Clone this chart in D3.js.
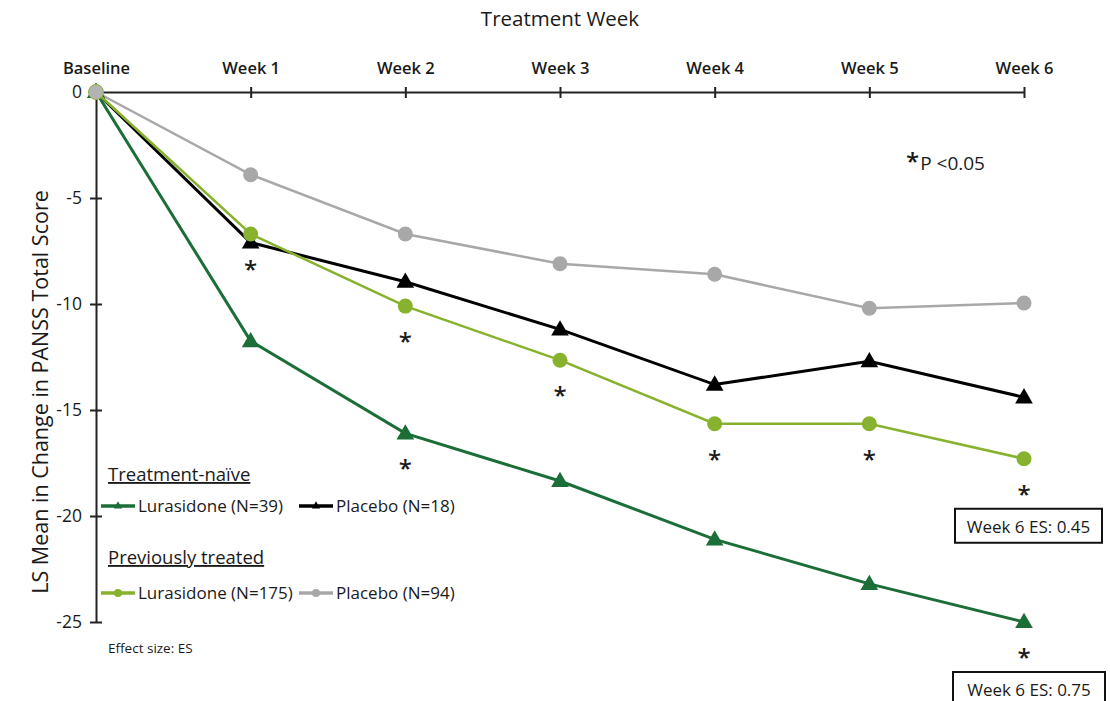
<!DOCTYPE html>
<html>
<head>
<meta charset="utf-8">
<script src="https://cdn.jsdelivr.net/npm/d3@7"></script>
<style>
  body { margin: 0; background: #fff; }
  svg text { font-family: "Open Sans", Lato, sans-serif; fill: #1a1a1a; }
</style>
</head>
<body>
<svg width="1110" height="701"></svg>
<script>
// chart values
const weeks = ["Baseline", "Week 1", "Week 2", "Week 3", "Week 4", "Week 5", "Week 6"];
const yTicks = [0, -5, -10, -15, -20, -25];

const luraNaive = [0, -11.75, -16.1, -18.35, -21.1, -23.2, -25.0];
const placNaive = [0, -7.1, -8.95, -11.2, -13.8, -12.7, -14.4];
const luraPrev = [0, -6.7, -10.1, -12.65, -15.65, -15.65, -17.3];
const placPrev = [0, -3.9, -6.7, -8.1, -8.6, -10.2, -9.95];

// weeks with p<0.05
const luraPrevStars = ["Week 1", "Week 2", "Week 3", "Week 4", "Week 5", "Week 6"];
const luraNaiveStars = ["Week 2", "Week 6"];

const esLabels = ["Week 6 ES: 0.45", "Week 6 ES: 0.75"];

const DARK_GREEN = "#1b6e38";
const LIGHT_GREEN = "#86b22e";
const GREY = "#a8a8a8";

var svg = d3.select("svg");

var x = d3.scalePoint().domain(weeks).range([96, 1024]);
var y = d3.scaleLinear().domain([0, -25]).range([92, 622]);

// title
svg.append("text")
  .attr("x", 560).attr("y", 26)
  .attr("text-anchor", "middle")
  .attr("font-size", 20.5)
  .text("Treatment Week");

// x axis on top
var xAxis = svg.append("g")
  .attr("transform", "translate(0," + y(0) + ")")
  .call(d3.axisTop(x).tickSize(0).tickPadding(18));
xAxis.select(".domain").attr("stroke", "#222").attr("stroke-width", 2);
xAxis.selectAll("text")
  .attr("font-size", 16.5)
  .attr("font-weight", 600)
  .attr("fill", "#1a1a1a");
xAxis.selectAll(".tick").filter(function (d) { return d != "Baseline"; })
  .append("line")
  .attr("y1", -5).attr("y2", 6)
  .attr("stroke", "#222").attr("stroke-width", 2);

// y axis
var yAxis = svg.append("g")
  .attr("transform", "translate(" + x("Baseline") + ",0)")
  .call(d3.axisLeft(y).tickValues(yTicks).tickSize(0).tickPadding(14)
    .tickFormat(function (d) { return String(d); }));
yAxis.select(".domain").attr("stroke", "#222").attr("stroke-width", 2);
yAxis.selectAll("text")
  .attr("font-size", 17.5)
  .attr("fill", "#1a1a1a");
yAxis.selectAll(".tick").filter(function (d) { return d != 0; })
  .append("line")
  .attr("x1", -6).attr("x2", 6)
  .attr("stroke", "#222").attr("stroke-width", 2);

svg.append("text")
  .attr("transform", "translate(48,392) rotate(-90)")
  .attr("text-anchor", "middle")
  .attr("font-size", 21.5)
  .text("LS Mean in Change in PANSS  Total Score");

var line = d3.line()
  .x(function (d, i) { return x(weeks[i]); })
  .y(function (d) { return y(d); });

var tri = d3.symbol().type(d3.symbolTriangle).size(135);

function drawSeries(values, color, width, shape) {
  var g = svg.append("g");
  g.append("path")
    .datum(values)
    .attr("d", line)
    .attr("fill", "none")
    .attr("stroke", color)
    .attr("stroke-width", width);
  var pts = g.selectAll(".pt").data(values).enter();
  if (shape == "tri") {
    pts.append("path")
      .attr("d", tri)
      .attr("transform", function (d, i) { return "translate(" + x(weeks[i]) + "," + (y(d) + 1) + ")"; })
      .attr("fill", color);
  } else {
    pts.append("circle")
      .attr("cx", function (d, i) { return x(weeks[i]); })
      .attr("cy", function (d) { return y(d); })
      .attr("r", 7.5)
      .attr("fill", color);
  }
}

drawSeries(placPrev, GREY, 2.5, "circle");
drawSeries(placNaive, "#000", 3, "tri");
drawSeries(luraNaive, DARK_GREEN, 3, "tri");
drawSeries(luraPrev, LIGHT_GREEN, 2.5, "circle");

// grey point sits on top at baseline
svg.append("circle")
  .attr("cx", x("Baseline")).attr("cy", y(placPrev[0]))
  .attr("r", 7.5).attr("fill", "#b3b3b3")
  .attr("stroke", LIGHT_GREEN).attr("stroke-width", 0.8);

// significance stars
function drawStars(values, starWeeks) {
  svg.selectAll(null).data(starWeeks).enter()
    .append("text")
    .attr("x", function (w) { return x(w); })
    .attr("y", function (w) { return y(values[weeks.indexOf(w)]) + 44; })
    .attr("text-anchor", "middle")
    .attr("font-size", 24)
    .attr("font-weight", 600)
    .attr("fill", "#111")
    .text("*");
}
drawStars(luraPrev, luraPrevStars);
drawStars(luraNaive, luraNaiveStars);

// p-value note
var pNote = svg.append("text").attr("x", 906).attr("y", 170).attr("font-size", 19);
pNote.append("tspan").attr("font-size", 24).attr("font-weight", 600).text("*");
pNote.append("tspan").attr("dx", 1).text("P <0.05");

// ES boxes
var esBoxes = [
  { label: esLabels[0], v: luraPrev[6], x0: 955, w: 147 },
  { label: esLabels[1], v: luraNaive[6], x0: 953, w: 152 }
];
esBoxes.forEach(function (b) {
  var top = y(b.v) + 50;
  svg.append("rect")
    .attr("x", b.x0).attr("y", top)
    .attr("width", b.w).attr("height", 34)
    .attr("fill", "#fff").attr("stroke", "#111").attr("stroke-width", 2);
  svg.append("text")
    .attr("x", b.x0 + b.w / 2).attr("y", top + 24)
    .attr("text-anchor", "middle")
    .attr("font-size", 17)
    .text(b.label);
});

// legend
var legend = svg.append("g");
function legendHeading(txt, yy) {
  legend.append("text")
    .attr("x", 108).attr("y", yy)
    .attr("font-size", 18.5)
    .attr("text-decoration", "underline")
    .text(txt);
}
function legendItem(lx, ly, color, shape, label) {
  legend.append("line")
    .attr("x1", lx).attr("x2", lx + 34)
    .attr("y1", ly).attr("y2", ly)
    .attr("stroke", color).attr("stroke-width", 3.5);
  if (shape == "tri") {
    legend.append("path")
      .attr("d", d3.symbol().type(d3.symbolTriangle).size(30))
      .attr("transform", "translate(" + (lx + 17) + "," + ly + ")")
      .attr("fill", color);
  } else {
    legend.append("circle")
      .attr("cx", lx + 17).attr("cy", ly).attr("r", 4)
      .attr("fill", color);
  }
  legend.append("text")
    .attr("x", lx + 37).attr("y", ly + 6)
    .attr("font-size", 17)
    .text(label);
}
legendHeading("Treatment-naïve", 481);
legendItem(101, 506, DARK_GREEN, "tri", "Lurasidone (N=39)");
legendItem(299, 506, "#000", "tri", "Placebo (N=18)");
legendHeading("Previously treated", 564);
legendItem(101, 593, LIGHT_GREEN, "circle", "Lurasidone (N=175)");
legendItem(299, 593, GREY, "circle", "Placebo (N=94)");

svg.append("text")
  .attr("x", 108).attr("y", 653)
  .attr("font-size", 13.5)
  .text("Effect size: ES");
</script>
</body>
</html>
